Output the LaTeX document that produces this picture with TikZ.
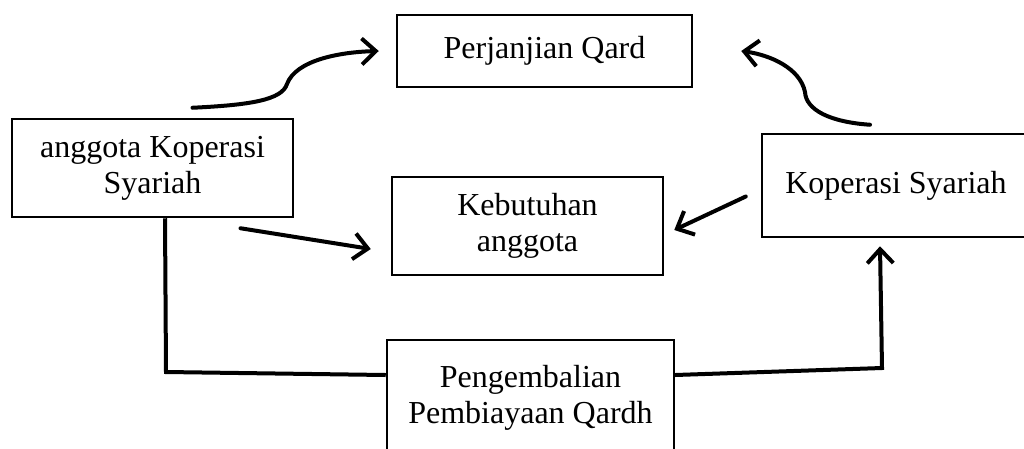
\documentclass[tikz,border=0pt]{standalone}
\usepackage{fontspec}
\setmainfont{Liberation Serif}
\usetikzlibrary{arrows.meta}
\begin{document}
\begin{tikzpicture}[x=1pt,y=-1pt,
        kotak/.style={draw,line width=2.5pt,align=center,inner sep=0pt,font=\fontsize{32}{36}\selectfont},
        garis/.style={line width=4pt},
        panah/.style={line width=4pt,line cap=round,-{Straight Barb[length=14pt,width=26pt]}}]
            \useasboundingbox (0,0) rectangle (1024,448);
            \node [kotak,minimum width=295pt,minimum height=72pt] (qard) at(544.5,51) {Perjanjian Qard};
            \node [kotak,minimum width=281pt,minimum height=98pt] (anggota) at(152.5,168) {anggota Koperasi\\Syariah};
            \node [kotak,minimum width=271pt,minimum height=98pt] (butuh) at(527.5,226) {Kebutuhan\\anggota};
            \node [kotak,minimum width=268pt,minimum height=103pt] (koperasi) at(896,185.5) {Koperasi Syariah};
            \node [kotak,minimum width=287pt,minimum height=116pt] (kembali) at(530.5,398) {Pengembalian\\Pembiayaan Qardh};
            \coordinate (sudutkiri) at(166,372);
            \coordinate (sudutkanan) at(882,368);
            \draw [panah] ([xshift=40pt,yshift=10pt]anggota.north) .. controls (250,105) and (282,100) .. (287,84) .. controls (296,60) and (340,52) .. ([xshift=-17pt]qard.west);
            \draw [panah] ([xshift=-26pt,yshift=8pt]koperasi.north) .. controls (830,122) and (806,110) .. (805,92) .. controls (800,68) and (770,55) .. ([xshift=48pt]qard.east);
            \draw [panah] ([xshift=88pt,yshift=-10pt]anggota.south) -- ([xshift=-20pt,yshift=-23pt]butuh.west);
            \draw [panah] ([xshift=-15pt,yshift=-11pt]koperasi.west) -- ([xshift=10pt,yshift=-4pt]butuh.east);
            \draw [garis] ([xshift=12.5pt]anggota.south) -- (sudutkiri) -- ([yshift=23pt]kembali.west);
            \draw [panah] ([yshift=23pt]kembali.east) -- (sudutkanan) -- ([xshift=-16pt,yshift=-8pt]koperasi.south);
        \end{tikzpicture}
\end{document}
